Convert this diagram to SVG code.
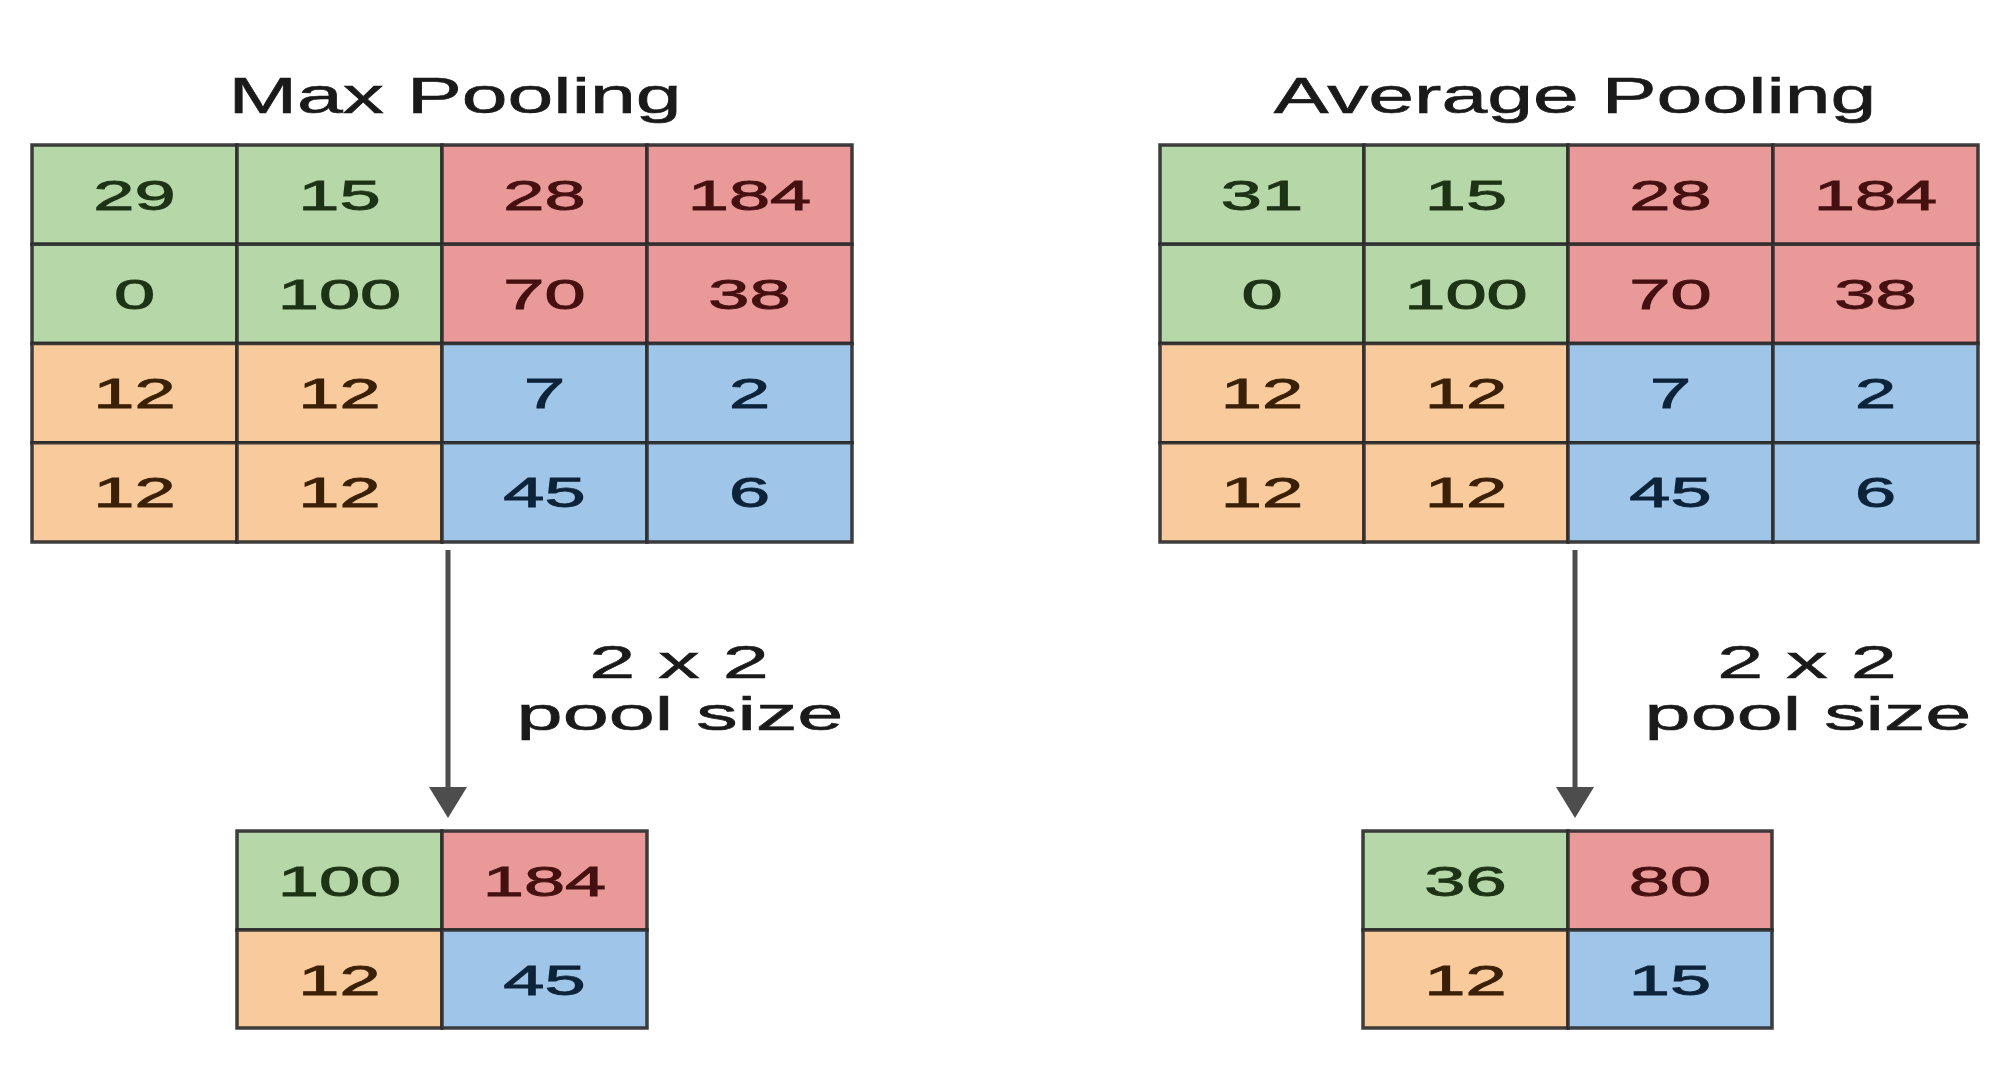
<svg xmlns="http://www.w3.org/2000/svg" width="2010" height="1083" viewBox="0 0 2010 1083">
<style>
  text { font-family: "Liberation Sans", Arial, sans-serif; text-anchor: middle; }
  .title { font-size: 49px; fill: #1a1a1a; stroke: #1a1a1a; stroke-width: 0.6; }
  .lbl { font-size: 46px; fill: #1a1a1a; stroke: #1a1a1a; stroke-width: 0.6; }
  .num { font-size: 43px; stroke-width: 0.9; }
  rect { stroke: #2a2a2a; stroke-opacity: 0.9; stroke-width: 3.5; }
  .g { fill: #b6d7a8; }
  .r { fill: #ea9999; }
  .o { fill: #f9cb9c; }
  .b { fill: #9fc5e8; }
  .tg { fill: #1d3315; stroke: #1d3315; }
  .tr { fill: #451010; stroke: #451010; }
  .to { fill: #3b2008; stroke: #3b2008; }
  .tb { fill: #0d2339; stroke: #0d2339; }
  .arrow { stroke: #4d4d4d; stroke-width: 5; fill: none; }
</style>
<defs>
  <marker id="ah" markerUnits="userSpaceOnUse" markerWidth="32" markerHeight="38" refX="3" refY="19" orient="auto">
    <path d="M0,0 L31,19 L0,38 Z" fill="#4d4d4d"/>
  </marker>
</defs>
<rect x="0" y="0" width="2010" height="1083" fill="#ffffff" style="stroke:none"/>

<g id="title-max">
  <text class="title" transform="translate(455,113) scale(1.68,1)">Max Pooling</text>
</g>
<g id="title-avg">
  <text class="title" transform="translate(1575,113) scale(1.68,1)">Average Pooling</text>
</g>

<g id="max-input">
  <rect class="g" x="32" y="145" width="205" height="99.25"/>
  <rect class="g" x="237" y="145" width="205" height="99.25"/>
  <rect class="r" x="442" y="145" width="205" height="99.25"/>
  <rect class="r" x="647" y="145" width="205" height="99.25"/>
  <rect class="g" x="32" y="244.25" width="205" height="99.25"/>
  <rect class="g" x="237" y="244.25" width="205" height="99.25"/>
  <rect class="r" x="442" y="244.25" width="205" height="99.25"/>
  <rect class="r" x="647" y="244.25" width="205" height="99.25"/>
  <rect class="o" x="32" y="343.5" width="205" height="99.25"/>
  <rect class="o" x="237" y="343.5" width="205" height="99.25"/>
  <rect class="b" x="442" y="343.5" width="205" height="99.25"/>
  <rect class="b" x="647" y="343.5" width="205" height="99.25"/>
  <rect class="o" x="32" y="442.75" width="205" height="99.25"/>
  <rect class="o" x="237" y="442.75" width="205" height="99.25"/>
  <rect class="b" x="442" y="442.75" width="205" height="99.25"/>
  <rect class="b" x="647" y="442.75" width="205" height="99.25"/>
  <text class="num tg" transform="translate(134.5,210) scale(1.72,1)">29</text>
  <text class="num tg" transform="translate(339.5,210) scale(1.72,1)">15</text>
  <text class="num tr" transform="translate(544.5,210) scale(1.72,1)">28</text>
  <text class="num tr" transform="translate(749.5,210) scale(1.72,1)">184</text>
  <text class="num tg" transform="translate(134.5,309) scale(1.72,1)">0</text>
  <text class="num tg" transform="translate(339.5,309) scale(1.72,1)">100</text>
  <text class="num tr" transform="translate(544.5,309) scale(1.72,1)">70</text>
  <text class="num tr" transform="translate(749.5,309) scale(1.72,1)">38</text>
  <text class="num to" transform="translate(134.5,408) scale(1.72,1)">12</text>
  <text class="num to" transform="translate(339.5,408) scale(1.72,1)">12</text>
  <text class="num tb" transform="translate(544.5,408) scale(1.72,1)">7</text>
  <text class="num tb" transform="translate(749.5,408) scale(1.72,1)">2</text>
  <text class="num to" transform="translate(134.5,507) scale(1.72,1)">12</text>
  <text class="num to" transform="translate(339.5,507) scale(1.72,1)">12</text>
  <text class="num tb" transform="translate(544.5,507) scale(1.72,1)">45</text>
  <text class="num tb" transform="translate(749.5,507) scale(1.72,1)">6</text>
</g>

<g id="avg-input">
  <rect class="g" x="1160" y="145" width="204" height="99.25"/>
  <rect class="g" x="1364" y="145" width="204" height="99.25"/>
  <rect class="r" x="1568" y="145" width="205" height="99.25"/>
  <rect class="r" x="1773" y="145" width="205" height="99.25"/>
  <rect class="g" x="1160" y="244.25" width="204" height="99.25"/>
  <rect class="g" x="1364" y="244.25" width="204" height="99.25"/>
  <rect class="r" x="1568" y="244.25" width="205" height="99.25"/>
  <rect class="r" x="1773" y="244.25" width="205" height="99.25"/>
  <rect class="o" x="1160" y="343.5" width="204" height="99.25"/>
  <rect class="o" x="1364" y="343.5" width="204" height="99.25"/>
  <rect class="b" x="1568" y="343.5" width="205" height="99.25"/>
  <rect class="b" x="1773" y="343.5" width="205" height="99.25"/>
  <rect class="o" x="1160" y="442.75" width="204" height="99.25"/>
  <rect class="o" x="1364" y="442.75" width="204" height="99.25"/>
  <rect class="b" x="1568" y="442.75" width="205" height="99.25"/>
  <rect class="b" x="1773" y="442.75" width="205" height="99.25"/>
  <text class="num tg" transform="translate(1262,210) scale(1.72,1)">31</text>
  <text class="num tg" transform="translate(1466,210) scale(1.72,1)">15</text>
  <text class="num tr" transform="translate(1670.5,210) scale(1.72,1)">28</text>
  <text class="num tr" transform="translate(1875.5,210) scale(1.72,1)">184</text>
  <text class="num tg" transform="translate(1262,309) scale(1.72,1)">0</text>
  <text class="num tg" transform="translate(1466,309) scale(1.72,1)">100</text>
  <text class="num tr" transform="translate(1670.5,309) scale(1.72,1)">70</text>
  <text class="num tr" transform="translate(1875.5,309) scale(1.72,1)">38</text>
  <text class="num to" transform="translate(1262,408) scale(1.72,1)">12</text>
  <text class="num to" transform="translate(1466,408) scale(1.72,1)">12</text>
  <text class="num tb" transform="translate(1670.5,408) scale(1.72,1)">7</text>
  <text class="num tb" transform="translate(1875.5,408) scale(1.72,1)">2</text>
  <text class="num to" transform="translate(1262,507) scale(1.72,1)">12</text>
  <text class="num to" transform="translate(1466,507) scale(1.72,1)">12</text>
  <text class="num tb" transform="translate(1670.5,507) scale(1.72,1)">45</text>
  <text class="num tb" transform="translate(1875.5,507) scale(1.72,1)">6</text>
</g>

<g id="max-output">
  <rect class="g" x="237" y="831" width="205" height="99"/>
  <rect class="r" x="442" y="831" width="205" height="99"/>
  <rect class="o" x="237" y="930" width="205" height="98"/>
  <rect class="b" x="442" y="930" width="205" height="98"/>
  <text class="num tg" transform="translate(339.5,896) scale(1.72,1)">100</text>
  <text class="num tr" transform="translate(544.5,896) scale(1.72,1)">184</text>
  <text class="num to" transform="translate(339.5,995) scale(1.72,1)">12</text>
  <text class="num tb" transform="translate(544.5,995) scale(1.72,1)">45</text>
</g>

<g id="avg-output">
  <rect class="g" x="1363" y="831" width="205" height="99"/>
  <rect class="r" x="1568" y="831" width="204" height="99"/>
  <rect class="o" x="1363" y="930" width="205" height="98"/>
  <rect class="b" x="1568" y="930" width="204" height="98"/>
  <text class="num tg" transform="translate(1465.5,896) scale(1.72,1)">36</text>
  <text class="num tr" transform="translate(1670,896) scale(1.72,1)">80</text>
  <text class="num to" transform="translate(1465.5,995) scale(1.72,1)">12</text>
  <text class="num tb" transform="translate(1670,995) scale(1.72,1)">15</text>
</g>

<g id="connectors">
  <line class="arrow" x1="448" y1="550" x2="448" y2="790" marker-end="url(#ah)"/>
  <line class="arrow" x1="1575" y1="550" x2="1575" y2="790" marker-end="url(#ah)"/>
</g>

<g id="label-max">
  <text class="lbl" transform="translate(679,678) scale(1.8,1)">2 x 2</text>
  <text class="lbl" transform="translate(680,730) scale(1.8,1)">pool size</text>
</g>
<g id="label-avg">
  <text class="lbl" transform="translate(1807,678) scale(1.8,1)">2 x 2</text>
  <text class="lbl" transform="translate(1808,730) scale(1.8,1)">pool size</text>
</g>
</svg>
